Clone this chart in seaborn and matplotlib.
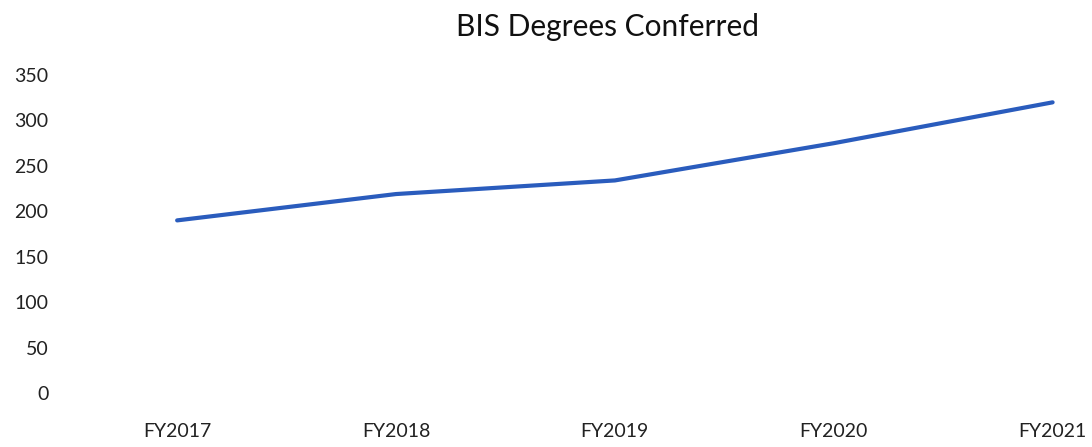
import matplotlib
matplotlib.use("Agg")
import matplotlib.pyplot as plt
import seaborn as sns
import pandas as pd

# values
years = ["FY2017", "FY2018", "FY2019", "FY2020", "FY2021"]
degrees = [190, 219, 234, 275, 320]
yticks = [0, 50, 100, 150, 200, 250, 300, 350]

df = pd.DataFrame({"year": years, "degrees": degrees})

sns.set_style("white")
plt.rcParams["font.family"] = ["Lato", "DejaVu Sans"]

fig = plt.figure(figsize=(10.92, 4.47), dpi=100)
ax = fig.add_axes([0.062, 0.121, 0.938, 0.711])

sns.lineplot(data=df, x="year", y="degrees", color="#2a5cbd", linewidth=3, ax=ax, sort=False)

ax.set_ylim(0, 350)
ax.set_yticks(yticks)
ax.set_xlim(-0.5, 4.18)
ax.set_xlabel("")
ax.set_ylabel("")
ax.tick_params(axis="y", labelsize=14, pad=14, length=0, colors="#222222")
ax.tick_params(axis="x", labelsize=14, pad=22, length=0, colors="#222222")
sns.despine(ax=ax, left=True, bottom=True)

fig.text(0.556, 0.94, "BIS Degrees Conferred", ha="center", va="center", fontsize=21.5, color="#111111")

fig.savefig("out.png", dpi=100)
